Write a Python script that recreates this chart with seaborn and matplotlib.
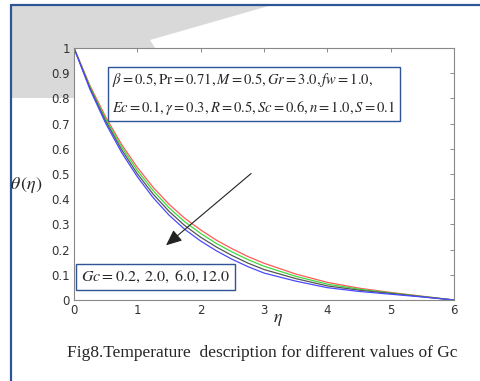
import numpy as np
import pandas as pd
import matplotlib
matplotlib.use("Agg")
import matplotlib.pyplot as plt
import seaborn as sns
from matplotlib.patches import Polygon

eta = [0.0, 0.25, 0.5, 0.75, 1.0, 1.25, 1.5, 1.75, 2.0, 2.25, 2.5, 2.75, 3.0, 3.5, 4.0, 4.5, 5.0, 5.5, 6.0]
theta_gc02 = [1.0, 0.852, 0.726, 0.618, 0.526, 0.447, 0.380, 0.324, 0.278, 0.237, 0.203, 0.172, 0.146, 0.103, 0.070, 0.047, 0.030, 0.015, 0.0]
theta_gc2 = [1.0, 0.847, 0.718, 0.608, 0.514, 0.434, 0.366, 0.310, 0.264, 0.224, 0.190, 0.160, 0.134, 0.094, 0.063, 0.043, 0.028, 0.014, 0.0]
theta_gc6 = [1.0, 0.842, 0.710, 0.597, 0.501, 0.420, 0.352, 0.295, 0.249, 0.210, 0.176, 0.146, 0.121, 0.085, 0.056, 0.039, 0.026, 0.013, 0.0]
theta_gc12 = [1.0, 0.837, 0.701, 0.586, 0.489, 0.406, 0.337, 0.280, 0.234, 0.195, 0.161, 0.132, 0.107, 0.075, 0.049, 0.034, 0.023, 0.012, 0.0]
gc_labels = ["0.2", "2.0", "6.0", "12.0"]
colors = ["#ff5a5a", "#3cdc3c", "#555555", "#4a4aff"]
xticks = [0, 1, 2, 3, 4, 5, 6]
yticks = [0, 0.1, 0.2, 0.3, 0.4, 0.5, 0.6, 0.7, 0.8, 0.9, 1.0]
ytick_labels = ["0", "0.1", "0.2", "0.3", "0.4", "0.5", "0.6", "0.7", "0.8", "0.9", "1"]

rows = []
for lab, ser in zip(gc_labels, [theta_gc02, theta_gc2, theta_gc6, theta_gc12]):
    for e, t in zip(eta, ser):
        rows.append({"eta": e, "theta": t, "Gc": lab})
df = pd.DataFrame(rows)

sns.set_theme(style="white")
plt.rcParams["mathtext.fontset"] = "stix"
plt.rcParams["font.family"] = ["DejaVu Sans"]

fig = plt.figure(figsize=(4.8, 3.81), dpi=100)
fig.patch.set_facecolor("white")

# watermark-like gray region and blue frame of the page
W, H = 480.0, 381.0
def fc(x, y):
    return (x / W, 1 - y / H)
poly = Polygon([fc(11, 5), fc(272, 5), fc(150, 40), fc(155, 48), fc(74, 48), fc(74, 98), fc(11, 98)],
               closed=True, transform=fig.transFigure, facecolor="#d9d9d9", edgecolor="none", zorder=-5)
fig.add_artist(poly)
fig.add_artist(plt.Line2D([11 / W, 1.0], [1 - 5 / H, 1 - 5 / H], transform=fig.transFigure, color="#2f5597", lw=1.6))
fig.add_artist(plt.Line2D([11 / W, 11 / W], [0, 1 - 5 / H], transform=fig.transFigure, color="#2f5597", lw=1.6))

ax = fig.add_axes([74 / W, 1 - 300 / H, 380 / W, 252 / H])
ax.set_zorder(2)
ax.set_facecolor("white")
sns.lineplot(data=df, x="eta", y="theta", hue="Gc", palette=colors, ax=ax,
             linewidth=0.9, legend=False, estimator=None, sort=True)

ax.set_xlim(0, 6)
ax.set_ylim(0, 1)
ax.set_xticks(xticks)
ax.set_xticklabels([str(t) for t in xticks])
ax.set_yticks(yticks)
ax.set_yticklabels(ytick_labels)
ax.tick_params(direction="in", length=3, width=0.6, color="#777777", labelsize=8.5,
               labelcolor="#333333", top=True, right=True, pad=3)
for s in ax.spines.values():
    s.set_color("#888888")
    s.set_linewidth(0.8)
ax.set_xlabel(r"$\eta$", fontsize=13)
ax.xaxis.set_label_coords(0.537, -0.04)
ax.set_ylabel(r"$\theta\,(\eta)$", fontsize=13, rotation=0, ha="center", va="center")
ax.yaxis.set_label_coords(-0.125, 0.455)

ax.text(0.1, 0.908, r"$\beta=0.5,\mathrm{Pr}=0.71,M=0.5,Gr=3.0,fw=1.0,$" + "\n" +
        r"$Ec=0.1,\gamma=0.3,R=0.5,Sc=0.6,n=1.0,S=0.1$",
        transform=ax.transAxes, fontsize=10.5, va="top", ha="left", linespacing=1.75,
        bbox=dict(boxstyle="square,pad=0.3", facecolor="white", edgecolor="#2f5597", linewidth=1.0))
ax.text(0.018, 0.09, r"$Gc=0.2,\;2.0,\;6.0,12.0$", transform=ax.transAxes, fontsize=11.5,
        va="center", ha="left",
        bbox=dict(boxstyle="square,pad=0.3", facecolor="white", edgecolor="#2f5597", linewidth=1.0))
ax.annotate("", xy=(1.42, 0.21), xytext=(2.83, 0.509),
            arrowprops=dict(arrowstyle="-|>,head_length=0.8,head_width=0.35", color="#222222", lw=0.8))

fig.text(262 / W, 1 - 353 / H, "Fig8.Temperature  description for different values of Gc",
         ha="center", va="center", fontsize=12.5, family=["Liberation Serif"])

fig.savefig("out.png", dpi=100)
